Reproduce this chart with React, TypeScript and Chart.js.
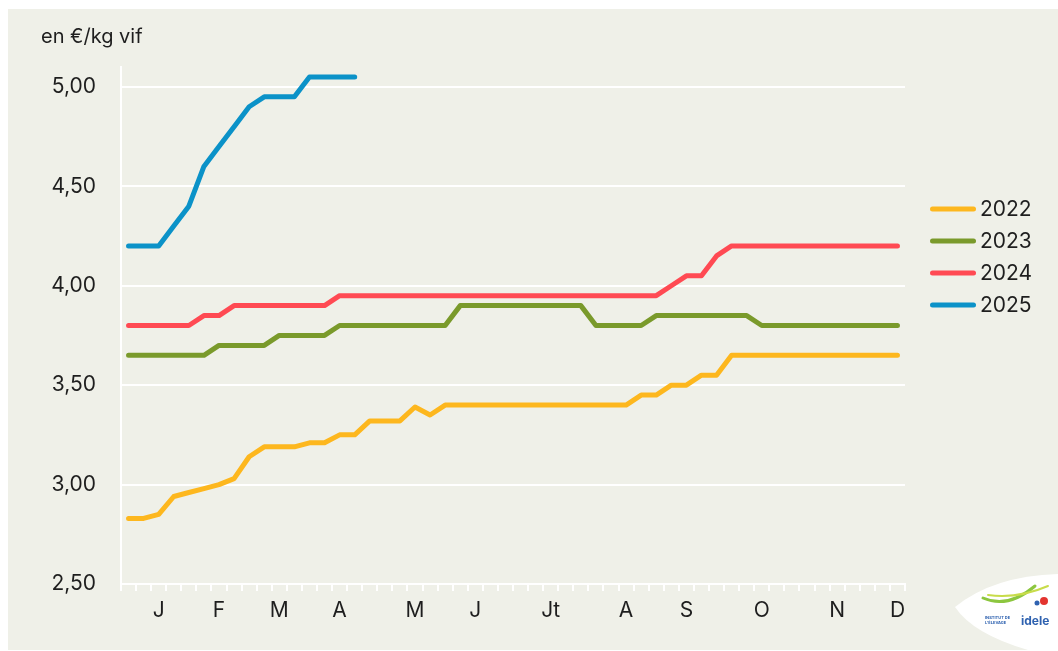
import React, { useEffect, useRef } from "react";
import { Chart, registerables } from "chart.js";

Chart.register(...registerables);

// 52 weekly categories, month initials shown on some weeks
const weekLabels: string[] = [
  "", "", "J", "", "", "", "F", "", "", "", "M", "", "", "", "A", "", "", "", "", "M",
  "", "", "", "J", "", "", "", "", "Jt", "", "", "", "", "A", "", "", "", "S", "", "",
  "", "", "O", "", "", "", "", "N", "", "", "", "D",
];

const seriesNames = ["2022", "2023", "2024", "2025"];
const seriesColors = ["#FDB71E", "#7A9A2B", "#FF4A53", "#0B92C8"];

const values2022: number[] = [
  2.83, 2.83, 2.85, 2.94, 2.96, 2.98, 3.0, 3.03, 3.14, 3.19, 3.19, 3.19, 3.21, 3.21, 3.25, 3.25,
  3.32, 3.32, 3.32, 3.39, 3.35, 3.4, 3.4, 3.4, 3.4, 3.4, 3.4, 3.4, 3.4, 3.4, 3.4, 3.4, 3.4, 3.4,
  3.45, 3.45, 3.5, 3.5, 3.55, 3.55, 3.65, 3.65, 3.65, 3.65, 3.65, 3.65, 3.65, 3.65, 3.65, 3.65,
  3.65, 3.65,
];
const values2023: number[] = [
  3.65, 3.65, 3.65, 3.65, 3.65, 3.65, 3.7, 3.7, 3.7, 3.7, 3.75, 3.75, 3.75, 3.75, 3.8, 3.8, 3.8,
  3.8, 3.8, 3.8, 3.8, 3.8, 3.9, 3.9, 3.9, 3.9, 3.9, 3.9, 3.9, 3.9, 3.9, 3.8, 3.8, 3.8, 3.8, 3.85,
  3.85, 3.85, 3.85, 3.85, 3.85, 3.85, 3.8, 3.8, 3.8, 3.8, 3.8, 3.8, 3.8, 3.8, 3.8, 3.8,
];
const values2024: number[] = [
  3.8, 3.8, 3.8, 3.8, 3.8, 3.85, 3.85, 3.9, 3.9, 3.9, 3.9, 3.9, 3.9, 3.9, 3.95, 3.95, 3.95, 3.95,
  3.95, 3.95, 3.95, 3.95, 3.95, 3.95, 3.95, 3.95, 3.95, 3.95, 3.95, 3.95, 3.95, 3.95, 3.95, 3.95,
  3.95, 3.95, 4.0, 4.05, 4.05, 4.15, 4.2, 4.2, 4.2, 4.2, 4.2, 4.2, 4.2, 4.2, 4.2, 4.2, 4.2, 4.2,
];
const values2025: number[] = [
  4.2, 4.2, 4.2, 4.3, 4.4, 4.6, 4.7, 4.8, 4.9, 4.95, 4.95, 4.95, 5.05, 5.05, 5.05, 5.05,
];

const yMin = 2.5;
const yMax = 5.1;
const yTickValues = [2.5, 3.0, 3.5, 4.0, 4.5, 5.0];
const unitLabel = "en €/kg vif";

const FONT = "Inter, 'Open Sans', sans-serif";
const TEXT = "#1e1e1e";
const BG = "#eff0e8";

export default function App() {
  const ref = useRef<HTMLCanvasElement | null>(null);

  useEffect(() => {
    const canvas = ref.current;
    if (!canvas) return;

    const background = {
      id: "bg",
      beforeDraw(chart: any) {
        const ctx = chart.ctx;
        ctx.save();
        ctx.fillStyle = BG;
        ctx.fillRect(0, 0, chart.width, chart.height);
        ctx.restore();
      },
    };

    const extras = {
      id: "extras",
      afterDraw(chart: any) {
        const ctx = chart.ctx;
        ctx.save();
        // unit title
        ctx.fillStyle = TEXT;
        ctx.font = `20px ${FONT}`;
        ctx.textAlign = "left";
        ctx.textBaseline = "middle";
        ctx.fillText(unitLabel, 33, 28);

        // legend
        chart.data.datasets.forEach((ds: any, i: number) => {
          const y = 200 + i * 32;
          ctx.strokeStyle = ds.borderColor;
          ctx.lineWidth = 5;
          ctx.lineCap = "round";
          ctx.beginPath();
          ctx.moveTo(924.5, y);
          ctx.lineTo(965.5, y);
          ctx.stroke();
          ctx.fillStyle = TEXT;
          ctx.font = `21px ${FONT}`;
          ctx.textBaseline = "middle";
          ctx.fillText(ds.label, 972, y + 1);
        });

        // logo badge
        ctx.fillStyle = "#ffffff";
        ctx.beginPath();
        ctx.moveTo(947, 598);
        ctx.quadraticCurveTo(985, 567, 1050, 565);
        ctx.lineTo(1050, 641);
        ctx.lineTo(1020, 641);
        ctx.quadraticCurveTo(965, 625, 947, 598);
        ctx.closePath();
        ctx.fill();

        ctx.strokeStyle = "#8cc63f";
        ctx.lineWidth = 3;
        ctx.lineCap = "round";
        ctx.beginPath();
        ctx.moveTo(975, 589);
        ctx.quadraticCurveTo(1000, 600, 1027, 577);
        ctx.stroke();
        ctx.strokeStyle = "#c8dc4a";
        ctx.lineWidth = 2;
        ctx.beginPath();
        ctx.moveTo(980, 586);
        ctx.quadraticCurveTo(1010, 590, 1040, 577);
        ctx.stroke();
        ctx.fillStyle = "#e3342f";
        ctx.beginPath();
        ctx.arc(1036, 592, 4, 0, Math.PI * 2);
        ctx.fill();
        ctx.fillStyle = "#2f62b0";
        ctx.beginPath();
        ctx.arc(1029, 594, 2.5, 0, Math.PI * 2);
        ctx.fill();
        ctx.fillStyle = "#2f62b0";
        ctx.font = `bold 12px ${FONT}`;
        ctx.textAlign = "left";
        ctx.textBaseline = "middle";
        ctx.fillText("idele", 1013, 612);
        ctx.font = `bold 4px ${FONT}`;
        ctx.fillText("INSTITUT DE", 977, 609);
        ctx.fillText("L'ÉLEVAGE", 977, 614);
        ctx.restore();
      },
    };

    const datasets = [values2022, values2023, values2024, values2025].map((vals, i) => ({
      label: seriesNames[i],
      data: vals,
      borderColor: seriesColors[i],
      backgroundColor: seriesColors[i],
      borderWidth: 5,
      borderCapStyle: "round" as const,
      borderJoinStyle: "round" as const,
      pointRadius: 0,
      pointHoverRadius: 0,
      tension: 0,
      fill: false,
    }));

    const chart = new Chart(canvas, {
      type: "line",
      data: { labels: weekLabels, datasets },
      options: {
        animation: false,
        responsive: false,
        maintainAspectRatio: false,
        devicePixelRatio: 1,
        layout: { padding: { left: 0, right: 153, top: 58, bottom: 0 } },
        plugins: {
          legend: { display: false },
          title: { display: false },
          tooltip: { enabled: false },
        },
        scales: {
          x: {
            type: "category",
            offset: true,
            afterFit(scale: any) {
              scale.height = 66;
            },
            grid: {
              display: true,
              offset: true,
              drawOnChartArea: false,
              drawTicks: true,
              tickLength: 7,
              color: "#ffffff",
              lineWidth: 2,
            },
            border: { display: true, color: "#ffffff", width: 2 },
            ticks: {
              autoSkip: false,
              maxRotation: 0,
              minRotation: 0,
              padding: 7,
              color: TEXT,
              font: { family: FONT, size: 21 },
            },
          },
          y: {
            type: "linear",
            min: yMin,
            max: yMax,
            afterFit(scale: any) {
              scale.width = 113;
            },
            afterBuildTicks(scale: any) {
              scale.ticks = yTickValues.map((v) => ({ value: v }));
            },
            grid: {
              display: true,
              drawTicks: false,
              color: "#ffffff",
              lineWidth: 2,
            },
            border: { display: true, color: "#ffffff", width: 2 },
            ticks: {
              padding: 25,
              color: TEXT,
              font: { family: FONT, size: 21 },
              callback: (v: any) => Number(v).toFixed(2).replace(".", ","),
            },
          },
        },
      },
      plugins: [background, extras],
    });

    return () => chart.destroy();
  }, []);

  return (
    <div style={{ position: "fixed", left: 8, top: 9, width: 1050, height: 641 }}>
      <canvas ref={ref} width={1050} height={641} style={{ display: "block" }} />
    </div>
  );
}
